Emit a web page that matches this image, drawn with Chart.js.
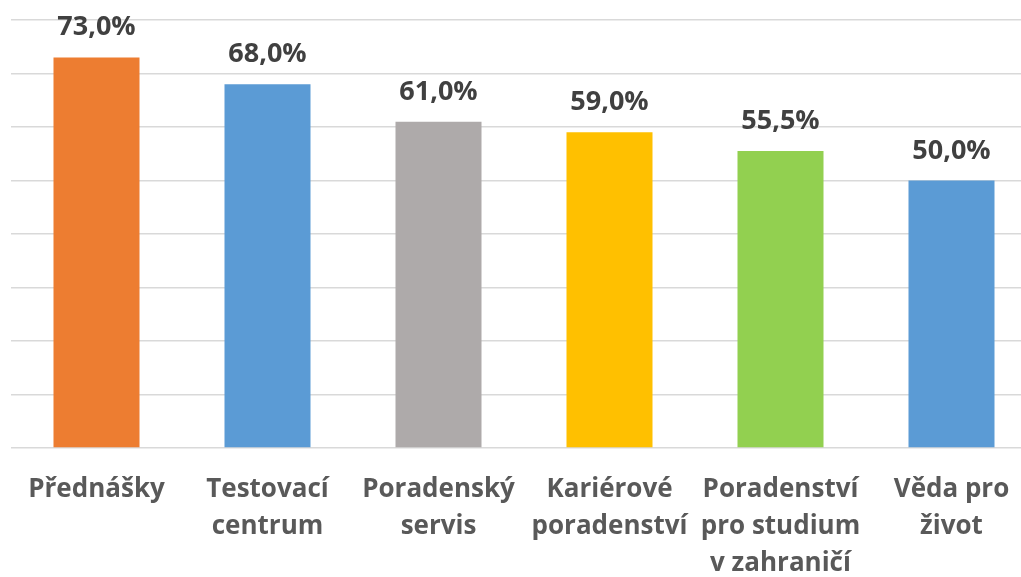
<!DOCTYPE html>
<html>
<head>
<meta charset="utf-8">
<script src="https://cdn.jsdelivr.net/npm/chart.js@4.4.1/dist/chart.umd.min.js"></script>
<style>
  html, body { margin: 0; padding: 0; background: #fff; }
  #wrap { width: 1021px; height: 577px; overflow: hidden; position: relative; }
  #box { position: absolute; left: 0; top: 0; width: 1040px; height: 605px; }
</style>
</head>
<body>
<div id="wrap"><div id="box"><canvas id="myChart"></canvas></div></div>
<script>
const categories = [
    ['Přednášky'],
    ['Testovací', 'centrum'],
    ['Poradenský', 'servis'],
    ['Kariérové', 'poradenství'],
    ['Poradenství', 'pro studium', 'v zahraničí'],
    ['Věda pro', 'život']
];
const values = [73.0, 68.0, 61.0, 59.0, 55.5, 50.0];
const barColors = ['#ED7D31', '#5B9BD5', '#AEAAAA', '#FFC000', '#92D050', '#5B9BD5'];
const yTicks = [0, 10, 20, 30, 40, 50, 60, 70, 80];

const FONT = '"Open Sans", "Noto Sans", sans-serif';

// popisky hodnot nad sloupci
const valueLabels = {
    id: 'valueLabels',
    afterDatasetsDraw(chart) {
        const ctx = chart.ctx;
        const meta = chart.getDatasetMeta(0);
        ctx.save();
        ctx.font = 'bold 27px ' + FONT;
        ctx.fillStyle = '#404040';
        ctx.textAlign = 'center';
        ctx.textBaseline = 'alphabetic';
        meta.data.forEach((bar, i) => {
            const txt = values[i].toFixed(1).replace('.', ',') + '%';
            ctx.fillText(txt, bar.x, bar.y - 22);
        });
        ctx.restore();
    }
};

const ctx = document.getElementById('myChart');
new Chart(ctx, {
    type: 'bar',
    data: {
        labels: categories,
        datasets: [{
            data: values,
            backgroundColor: barColors,
            borderWidth: 0,
            barPercentage: 1,
            categoryPercentage: 0.503
        }]
    },
    options: {
        responsive: true,
        maintainAspectRatio: false,
        animation: false,
        layout: { padding: { left: 11, right: 3, top: 20, bottom: 0 } },
        plugins: {
            legend: { display: false },
            tooltip: { enabled: false }
        },
        scales: {
            x: {
                grid: { display: false, drawTicks: false },
                border: { display: false },
                ticks: {
                    autoSkip: false,
                    maxRotation: 0,
                    padding: 23,
                    color: '#595959',
                    font: { family: FONT, size: 26, weight: 'bold', lineHeight: '37px' }
                }
            },
            y: {
                min: 0,
                max: 80,
                afterBuildTicks(scale) {
                    scale.ticks = yTicks.map(v => ({ value: v }));
                },
                grid: { color: '#D9D9D9', lineWidth: 1.5, drawTicks: false },
                border: { display: false },
                ticks: { display: false }
            }
        }
    },
    plugins: [valueLabels]
});
</script>
</body>
</html>
